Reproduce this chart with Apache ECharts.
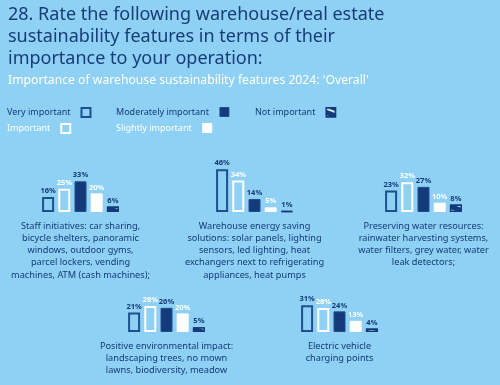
<!DOCTYPE html>
<html>
<head>
<meta charset="utf-8">
<script src="https://cdn.jsdelivr.net/npm/echarts@6/dist/echarts.min.js"></script>
<style>
html,body{margin:0;padding:0;background:#8fd1f4;}
#chart{width:500px;height:385px;}
</style>
</head>
<body>
<div id="chart"></div>
<script>
const titleText = '28. Rate the following warehouse/real estate\nsustainability features in terms of their\nimportance to your operation:';
const subtitleText = "Importance of warehouse sustainability features 2024: 'Overall'";
const featureLabels = [
  'Staff initiatives: car sharing,\nbicycle shelters, panoramic\nwindows, outdoor gyms,\nparcel lockers, vending\nmachines, ATM (cash machines);',
  'Warehouse energy saving\nsolutions: solar panels, lighting\nsensors, led lighting, heat\nexchangers next to refrigerating\nappliances, heat pumps',
  'Preserving water resources:\nrainwater harvesting systems,\nwater filters, grey water, water\nleak detectors;',
  'Positive environmental impact:\nlandscaping trees, no mown\nlawns, biodiversity, meadow',
  'Electric vehicle\ncharging points'
];
const levels = ['Very important', 'Important', 'Moderately important', 'Slightly important', 'Not important'];
const veryImportant = [16, 46, 23, 21, 31];
const important = [25, 34, 32, 28, 28];
const moderatelyImportant = [33, 14, 27, 26, 24];
const slightlyImportant = [20, 5, 10, 20, 13];
const notImportant = [6, 1, 8, 5, 4];
const levelValues = [veryImportant, important, moderatelyImportant, slightlyImportant, notImportant];

const BG = '#8fd1f4';
const NAVY = '#143a7a';
const FONT = 'Noto Sans';

const levelStyles = [
  { color: BG, borderColor: '#1e4f8f', borderWidth: 2 },
  { color: BG, borderColor: '#ffffff', borderWidth: 2 },
  { color: NAVY, borderColor: '#1e4f8f', borderWidth: 1 },
  { color: '#ffffff', borderColor: '#ffffff', borderWidth: 1 },
  { color: NAVY, borderColor: NAVY, borderWidth: 1.5,
    decal: { symbol: 'rect', color: '#cde9f8', dashArrayX: [1, 0], dashArrayY: [2, 5], rotation: 0.35, symbolSize: 1 } }
];
const labelColors = [NAVY, '#ffffff', NAVY, '#ffffff', NAVY];

// layout: grid boxes for each group
const grids = [
  { left: 40, top: 165.5, width: 81, height: 46.5 },
  { left: 214, top: 165.5, width: 81, height: 46.5 },
  { left: 383, top: 165.5, width: 81, height: 46.5 },
  { left: 126, top: 285.5, width: 81, height: 46.5 },
  { left: 300, top: 289, width: 79, height: 43 }
];

const xAxes = [], yAxes = [], series = [];
grids.forEach((g, gi) => {
  xAxes.push({
    type: 'category', gridIndex: gi, data: [''],
    axisLine: { show: false }, axisTick: { show: false }, axisLabel: { show: false },
    name: featureLabels[gi], nameLocation: 'middle', nameGap: 8,
    nameTextStyle: { color: NAVY, fontSize: 9.2, lineHeight: 12.2, fontFamily: FONT, align: 'center', verticalAlign: 'top' }
  });
  yAxes.push({ type: 'value', gridIndex: gi, min: 0, max: 50, show: false, splitLine: { show: false } });
  levels.forEach((lv, li) => {
    series.push({
      type: 'bar', name: lv, xAxisIndex: gi, yAxisIndex: gi,
      data: [levelValues[li][gi]],
      barWidth: 12, barGap: '35%',
      itemStyle: levelStyles[li],
      label: { show: true, position: 'top', distance: 2, formatter: '{c}%', fontSize: 7.5, fontWeight: 'bold', color: labelColors[li], fontFamily: FONT },
      emphasis: { disabled: true }
    });
  });
});

// legend positions (layout only)
const legendPos = [
  { left: 7, top: 107 }, { left: 7, top: 123 },
  { left: 116, top: 107 }, { left: 116, top: 123 },
  { left: 255, top: 107 }
];
const legends = levels.map((lv, li) => ({
  left: legendPos[li].left, top: legendPos[li].top,
  orient: 'horizontal', itemWidth: 9, itemHeight: 9, align: 'right',
  selectedMode: false, padding: 0,
  textStyle: { fontSize: 9, fontFamily: FONT, color: labelColors[li], padding: [0, 6, 0, 0] },
  data: [{ name: lv, icon: 'rect', itemStyle: levelStyles[li] }]
}));

const chart = echarts.init(document.getElementById('chart'));
chart.setOption({
  backgroundColor: BG,
  animation: false,
  title: [
    { text: titleText, left: 8, top: 4, padding: 0,
      textStyle: { color: '#173c78', fontSize: 18, fontWeight: 'normal', lineHeight: 22, fontFamily: FONT } },
    { text: subtitleText, left: 8, top: 75, padding: 0,
      textStyle: { color: '#ffffff', fontSize: 12.2, fontWeight: 'normal', fontFamily: FONT } }
  ],
  legend: legends,
  grid: grids,
  xAxis: xAxes,
  yAxis: yAxes,
  series: series
});
</script>
</body>
</html>
